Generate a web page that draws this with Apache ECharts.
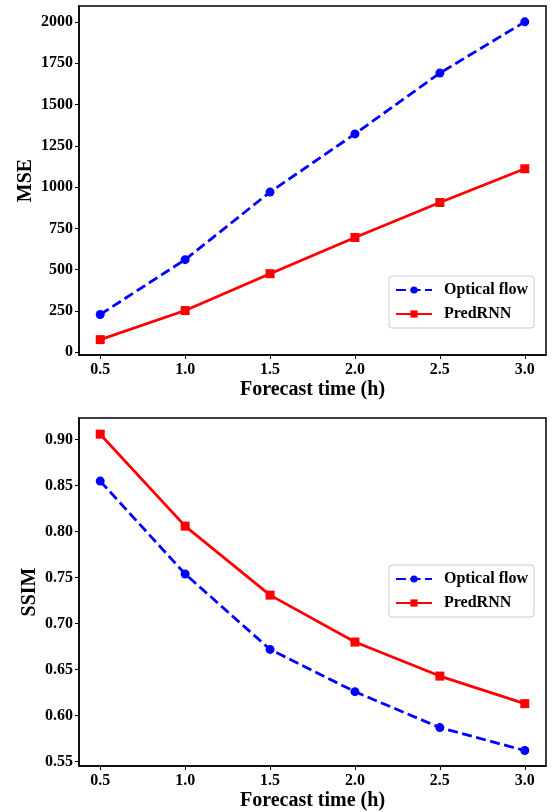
<!DOCTYPE html>
<html>
<head>
<meta charset="utf-8">
<title>MSE and SSIM vs forecast time</title>
<script src="https://cdn.jsdelivr.net/npm/echarts@6/dist/echarts.min.js"></script>
<style>
  html, body { margin: 0; padding: 0; background: #ffffff; }
  #chart { width: 552px; height: 812px; }
</style>
</head>
<body>
<div id="chart"></div>
<script>
// Forecast lead times (hours)
const forecastHours = [0.5, 1.0, 1.5, 2.0, 2.5, 3.0];

// Mean squared error per lead time
const mseOpticalFlow = [229, 561, 970, 1322, 1690, 2000];
const msePredRNN = [77, 253, 476, 695, 907, 1111];

// Structural similarity per lead time
const ssimOpticalFlow = [0.855, 0.754, 0.672, 0.626, 0.587, 0.562];
const ssimPredRNN = [0.906, 0.806, 0.731, 0.680, 0.643, 0.613];

// Tick positions
const xTicks = [0.5, 1.0, 1.5, 2.0, 2.5, 3.0];
const mseTicks = [0, 250, 500, 750, 1000, 1250, 1500, 1750, 2000];
const ssimTicks = [0.55, 0.60, 0.65, 0.70, 0.75, 0.80, 0.85, 0.90];

const seriesNames = ['Optical flow', 'PredRNN'];

const FONT = '"Liberation Serif", "Times New Roman", serif';
const BLUE = '#0000ff';
const RED = '#ff0000';

function pairs(xs, ys) {
  return xs.map((x, i) => [x, ys[i]]);
}

const labelStyle = { fontFamily: FONT, fontWeight: 'bold', fontSize: 16, color: '#000' };
const nameStyle = { fontFamily: FONT, fontWeight: 'bold', fontSize: 20, color: '#000' };

function xAxisFor(gridIndex) {
  return {
    type: 'value',
    gridIndex,
    min: 0.375,
    max: 3.125,
    name: 'Forecast time (h)',
    nameLocation: 'middle',
    nameGap: 25,
    nameMoveOverlap: false,
    nameTextStyle: nameStyle,
    axisLine: { show: true, onZero: false, lineStyle: { color: '#000', width: 1.5 } },
    axisTick: { show: true, inside: false, length: 4, lineStyle: { color: '#000', width: 1 }, customValues: xTicks },
    axisLabel: Object.assign({ margin: 7, customValues: xTicks, formatter: v => v.toFixed(1) }, labelStyle),
    splitLine: { show: false }
  };
}

function yAxisFor(gridIndex, name, min, max, ticks, digits, gap) {
  return {
    type: 'value',
    gridIndex,
    min,
    max,
    name,
    nameLocation: 'middle',
    nameGap: gap,
    nameMoveOverlap: false,
    nameTextStyle: nameStyle,
    axisLine: { show: true, onZero: false, lineStyle: { color: '#000', width: 1.5 } },
    axisTick: { show: true, inside: false, length: 4, lineStyle: { color: '#000', width: 1 }, customValues: ticks },
    axisLabel: Object.assign({ margin: 6, customValues: ticks, formatter: v => v.toFixed(digits) }, labelStyle),
    splitLine: { show: false }
  };
}

function dashedSeries(name, data, xi, yi) {
  return {
    name, type: 'line', xAxisIndex: xi, yAxisIndex: yi, data,
    symbol: 'circle', symbolSize: 9,
    itemStyle: { color: BLUE },
    lineStyle: { color: BLUE, width: 2.8, type: [10, 4.5] },
    animation: false
  };
}

function solidSeries(name, data, xi, yi) {
  return {
    name, type: 'line', xAxisIndex: xi, yAxisIndex: yi, data,
    symbol: 'rect', symbolSize: 9,
    itemStyle: { color: RED },
    lineStyle: { color: RED, width: 2.8, type: 'solid' },
    animation: false
  };
}

function legendAt(left, top) {
  return {
    data: seriesNames,
    orient: 'vertical',
    left, top,
    itemWidth: 36,
    itemHeight: 9,
    itemGap: 8,
    padding: [6, 6, 6, 6],
    backgroundColor: 'rgba(255,255,255,0.8)',
    borderColor: '#cccccc',
    borderWidth: 1,
    borderRadius: 3,
    selectedMode: false,
    textStyle: { fontFamily: FONT, fontWeight: 'bold', fontSize: 16, color: '#000', padding: [0, 0, 0, 7] }
  };
}

const chart = echarts.init(document.getElementById('chart'), null, { renderer: 'canvas' });

chart.setOption({
  backgroundColor: '#ffffff',
  animation: false,
  grid: [
    { left: 79, top: 6, width: 467, height: 349, show: true, borderColor: '#000', borderWidth: 1.5, backgroundColor: 'transparent' },
    { left: 79, top: 418, width: 467, height: 348, show: true, borderColor: '#000', borderWidth: 1.5, backgroundColor: 'transparent' }
  ],
  xAxis: [xAxisFor(0), xAxisFor(1)],
  yAxis: [
    yAxisFor(0, 'MSE', -16, 2096, mseTicks, 0, 43),
    yAxisFor(1, 'SSIM', 0.5452, 0.9236, ssimTicks, 2, 39)
  ],
  legend: [legendAt(389, 276), legendAt(389, 565)],
  series: [
    dashedSeries(seriesNames[0], pairs(forecastHours, mseOpticalFlow), 0, 0),
    solidSeries(seriesNames[1], pairs(forecastHours, msePredRNN), 0, 0),
    dashedSeries(seriesNames[0], pairs(forecastHours, ssimOpticalFlow), 1, 1),
    solidSeries(seriesNames[1], pairs(forecastHours, ssimPredRNN), 1, 1)
  ]
});
</script>
</body>
</html>
